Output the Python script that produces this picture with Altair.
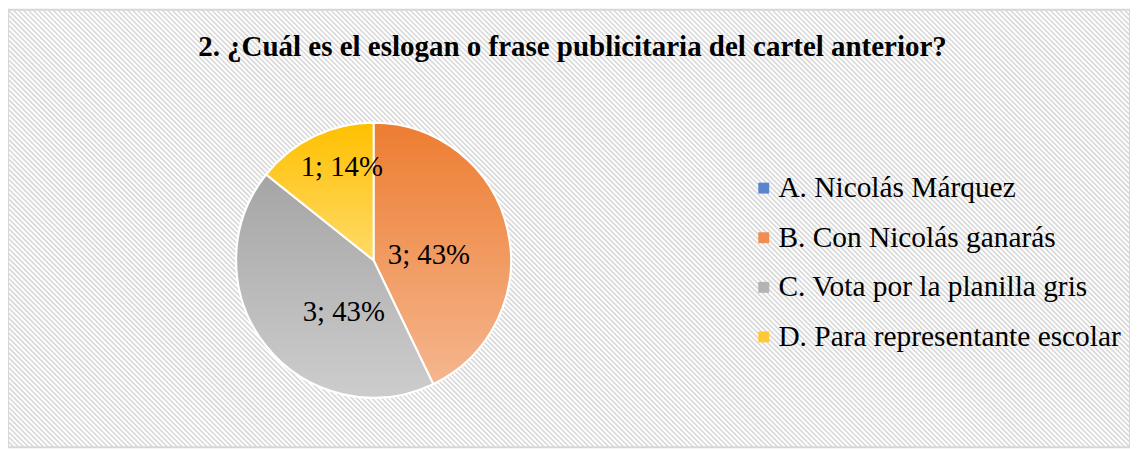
import altair as alt
import pandas as pd

# ---- data ----
categories = ["A. Nicolás Márquez", "B. Con Nicolás ganarás",
              "C. Vota por la planilla gris", "D. Para representante escolar"]
counts = [0, 3, 3, 1]
order = [0, 1, 2, 3]
title_text = "2. ¿Cuál es el eslogan o frase publicitaria del cartel anterior?"

df = pd.DataFrame({"cat": categories, "value": counts, "ord": order})

W, H = 1131, 441
CX, CY, R = 368.5, 252.5, 138.5
FONT = "'Liberation Serif', 'Times New Roman', serif"
FS = 29

legend_colors = ["#5B84CF", "#F08D50", "#B3B3B3", "#FFC935"]
gradients = {
    categories[0]: ("#4472C4", "#8EA9DB"),
    categories[1]: ("#ED7D31", "#F5B68E"),
    categories[2]: ("#A5A5A5", "#CDCDCD"),
    categories[3]: ("#FFC000", "#FFDA6A"),
}
# label placement (radius, angular offset in radians) per slice
label_pos = {
    categories[1]: (56, 0.136),
    categories[2]: (60, -0.374),
    categories[3]: (99, 0.119),
}

base = alt.Chart(df).transform_joinaggregate(
    total="sum(value)"
).transform_window(
    cum="sum(value)", sort=[alt.SortField("ord")], frame=[None, 0]
).transform_calculate(
    t0="2*PI*(datum.cum - datum.value)/datum.total",
    t1="2*PI*datum.cum/datum.total",
    tm="PI*(2*datum.cum - datum.value)/datum.total",
    label="datum.value + '; ' + format(datum.value/datum.total, '.0%')",
)

# background hatch (decoration)
hatch = alt.Chart(alt.sequence(start=-460, stop=1140, step=5, as_="k")).transform_calculate(
    k2=f"datum.k + {H}"
).mark_rule(color="#d9d9d9", strokeWidth=1.7, clip=True).encode(
    x=alt.X("k:Q", scale=None),
    x2="k2:Q",
    y=alt.value(0),
    y2=alt.value(H),
)

solid = base.mark_arc(radius=R, stroke="white", strokeWidth=2).encode(
    theta=alt.Theta("t0:Q", scale=None),
    theta2="t1:Q",
    color=alt.Color(
        "cat:N",
        scale=alt.Scale(domain=categories, range=legend_colors),
        legend=alt.Legend(
            title=None, orient="none", legendX=747, legendY=165,
            symbolType="square", symbolSize=121, symbolStrokeWidth=0,
            labelFont=FONT, labelFontSize=29.6, labelColor="black",
            labelOffset=0, labelLimit=600, rowPadding=19, padding=0,
        ),
    ),
    x=alt.value(CX),
    y=alt.value(CY),
)

layers = [hatch, solid]
for c in categories:
    top, bottom = gradients[c]
    g = base.transform_filter(alt.datum.cat == c).mark_arc(
        radius=R, stroke="white", strokeWidth=2,
        fill=alt.Gradient(
            gradient="linear",
            stops=[alt.GradientStop(color=top, offset=0),
                   alt.GradientStop(color=bottom, offset=1)],
            x1=0, x2=0, y1=0, y2=1,
        ),
    ).encode(
        theta=alt.Theta("t0:Q", scale=None),
        theta2="t1:Q",
        x=alt.value(CX),
        y=alt.value(CY),
    )
    layers.append(g)

for c, (rr, off) in label_pos.items():
    t = base.transform_filter(alt.datum.cat == c).mark_text(
        radius=rr, thetaOffset=off, font=FONT, fontSize=FS, color="black",
        align="center", baseline="middle",
    ).encode(
        theta=alt.Theta("tm:Q", scale=None),
        text="label:N",
        x=alt.value(CX),
        y=alt.value(CY),
    )
    layers.append(t)

title = alt.Chart(pd.DataFrame({"t": [title_text]})).mark_text(
    font=FONT, fontSize=29.2, fontWeight="bold", color="black",
    align="center", baseline="middle",
).encode(text="t:N", x=alt.value(569), y=alt.value(38))
layers.append(title)

chart = alt.layer(*layers).properties(
    width=W, height=H, autosize=alt.AutoSizeParams(type="none"), padding=0,
    background="white",
).configure_view(stroke="#d6d6d6", strokeWidth=2)

chart.save("out.html", embed_options={"renderer": "svg", "actions": False})
